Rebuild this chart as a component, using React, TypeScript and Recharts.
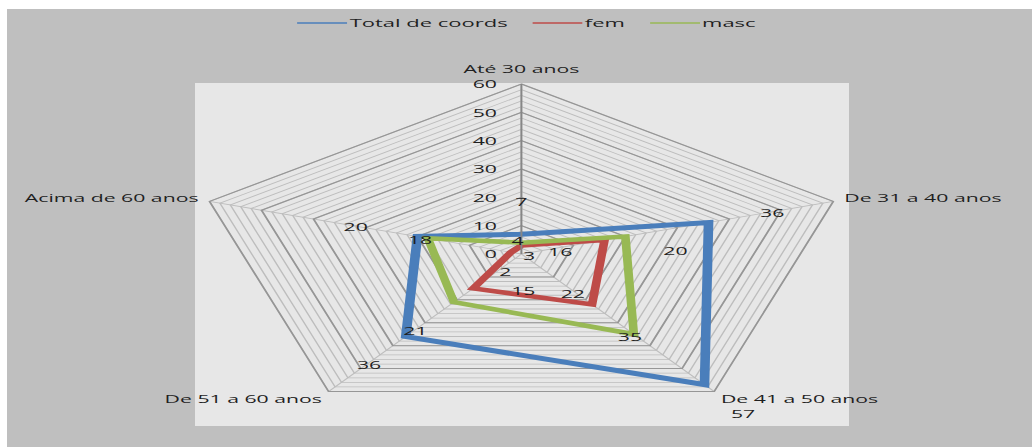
import React from 'react';
import {
  RadarChart,
  Radar,
  PolarGrid,
  PolarAngleAxis,
  PolarRadiusAxis,
  Legend,
  LabelList,
} from 'recharts';

// Coordenadores por faixa etária
const ageGroups = ['Até 30 anos', 'De 31 a 40 anos', 'De 41 a 50 anos', 'De 51 a 60 anos', 'Acima de 60 anos'];
const totalCoords = [7, 36, 57, 36, 20];
const femCoords = [3, 16, 22, 15, 2];
const mascCoords = [4, 20, 35, 21, 18];

const radiusTicks = [0, 10, 20, 30, 40, 50, 60];
const MINOR_STEP = 2;

// where each value label sits relative to its vertex (dx, dy)
const totalLabelNudge = [[0, -32], [33, -10], [20, 29], [-19, 28], [-32, -10]];
const femLabelNudge = [[4, 10], [-23, 12], [-10, -11], [26, 2], [-3, 20]];
const mascLabelNudge = [[-2, -2], [26, 14], [-2, 3], [-20, 29], [-4, 2]];

const data = ageGroups.map((group, i) => ({
  group,
  total: totalCoords[i],
  fem: femCoords[i],
  masc: mascCoords[i],
}));

const COLORS: Record<string, string> = {
  total: '#4a7ebb',
  fem: '#be4b48',
  masc: '#98b954',
};

const FONT = '"Open Sans", "DejaVu Sans", sans-serif';
const TEXT = '#1f1f1f';
const FONT_SIZE = 11;

// the chart is laid out narrow and then stretched sideways
const CHART_W = 535;
const CHART_H = 447;
const STRETCH = 1032 / CHART_W;
const CX = 270.3;
const CY = 254;
const R = 170;
const MAX = radiusTicks[radiusTicks.length - 1];
const RAD = Math.PI / 180;

const majorRadii = radiusTicks.filter((t) => t > 0).map((t) => (t / MAX) * R);
const minorRadii = Array.from({ length: MAX / MINOR_STEP }, (_, i) => (((i + 1) * MINOR_STEP) / MAX) * R);

const makeLabel = (nudge: number[][]) => (props: any) => {
  const { index, value } = props;
  let x = props.x;
  let y = props.y;
  if (x == null || y == null) {
    const vb = props.viewBox || {};
    const a = ((vb.startAngle ?? 0) + (vb.endAngle ?? vb.startAngle ?? 0)) / 2;
    x = vb.cx + vb.outerRadius * Math.cos(-a * RAD);
    y = vb.cy + vb.outerRadius * Math.sin(-a * RAD);
  }
  const [dx, dy] = nudge[index] || [0, 0];
  return (
    <text
      x={x + dx}
      y={y + dy}
      textAnchor="middle"
      dominantBaseline="central"
      fontFamily={FONT}
      fontSize={FONT_SIZE}
      fill={TEXT}
    >
      {value}
    </text>
  );
};

// category names, placed from the outer vertex of each spoke
const AngleTick = (props: any) => {
  const { payload, textAnchor } = props;
  const cos = Math.cos(-payload.coordinate * RAD);
  const sin = Math.sin(-payload.coordinate * RAD);
  const vx = CX + R * cos;
  const vy = CY + R * sin;
  let dy = 0.5;
  if (sin < -0.9) dy = -11;
  else if (sin > 0.5) dy = 11;
  return (
    <text
      x={vx + cos * 6}
      y={vy + dy}
      textAnchor={textAnchor}
      fontFamily={FONT}
      fontSize={FONT_SIZE}
      fill={TEXT}
    >
      {payload.value}
    </text>
  );
};

const RadiusTick = (props: any) => {
  const { x, y, payload } = props;
  return (
    <text
      x={x - 12.7}
      y={y}
      textAnchor="end"
      dominantBaseline="central"
      fontFamily={FONT}
      fontSize={FONT_SIZE}
      fill={TEXT}
    >
      {payload.value}
    </text>
  );
};

const renderLegend = (props: any) => {
  const items = props.payload || [];
  return (
    <div
      style={{
        display: 'flex',
        justifyContent: 'center',
        gap: 13,
        paddingLeft: 11,
        fontFamily: FONT,
        fontSize: 11.4,
        color: TEXT,
        lineHeight: '16px',
      }}
    >
      {items.map((e: any) => (
        <div key={e.value} style={{ display: 'flex', alignItems: 'center' }}>
          <svg width={26} height={4}>
            <line x1={0} y1={2} x2={26} y2={2} stroke={COLORS[e.dataKey] || e.color} strokeWidth={1.6} />
          </svg>
          <span style={{ marginLeft: 1 }}>{e.value}</span>
        </div>
      ))}
    </div>
  );
};

export default function App() {
  return (
    <div style={{ position: 'relative', width: 1032, height: 447, background: '#ffffff', overflow: 'hidden' }}>
      <style>{'body{margin:0}'}</style>
      <div style={{ position: 'absolute', left: 7, top: 9, right: 0, bottom: 0, background: '#bfbfbf' }} />
      <div style={{ position: 'absolute', left: 195, top: 83, width: 654, height: 343, background: '#e7e7e7' }} />
      <div
        style={{
          position: 'absolute',
          left: 0,
          top: 0,
          width: CHART_W,
          height: CHART_H,
          transform: `scaleX(${STRETCH})`,
          transformOrigin: '0 0',
        }}
      >
        <RadarChart
          width={CHART_W}
          height={CHART_H}
          data={data}
          cx={CX}
          cy={CY}
          outerRadius={R}
          margin={{ top: 0, right: 0, bottom: 0, left: 0 }}
        >
          <PolarGrid gridType="polygon" polarRadius={minorRadii} stroke="#bdbdbd" strokeWidth={0.8} fill="none" />
          <PolarGrid gridType="polygon" polarRadius={majorRadii} radialLines={false} stroke="#969696" strokeWidth={1} fill="none" />
          <PolarAngleAxis dataKey="group" tick={<AngleTick />} tickLine={false} axisLine={false} />
          <PolarRadiusAxis
            angle={90}
            domain={[0, MAX]}
            ticks={radiusTicks as any}
            tickCount={radiusTicks.length}
            tick={<RadiusTick />}
            axisLine={{ stroke: '#868686', strokeWidth: 1 }}
            tickLine={false}
          />
          <Legend
            verticalAlign="top"
            content={renderLegend}
            wrapperStyle={{ top: 15, left: 0, width: CHART_W }}
          />
          <Radar name="Total de coords" dataKey="total" stroke={COLORS.total} strokeWidth={5} fill="none" isAnimationActive={false}>
            <LabelList dataKey="total" content={makeLabel(totalLabelNudge)} />
          </Radar>
          <Radar name="fem" dataKey="fem" stroke={COLORS.fem} strokeWidth={4.5} fill="none" isAnimationActive={false}>
            <LabelList dataKey="fem" content={makeLabel(femLabelNudge)} />
          </Radar>
          <Radar name="masc" dataKey="masc" stroke={COLORS.masc} strokeWidth={4.5} fill="none" isAnimationActive={false}>
            <LabelList dataKey="masc" content={makeLabel(mascLabelNudge)} />
          </Radar>
        </RadarChart>
      </div>
    </div>
  );
}
